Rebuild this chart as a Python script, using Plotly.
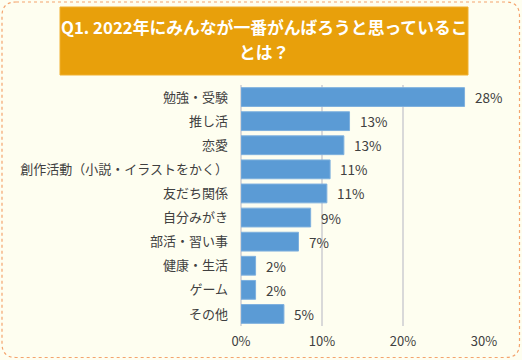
import plotly.graph_objects as go

categories = ["勉強・受験", "推し活", "恋愛", "創作活動（小説・イラストをかく）", "友だち関係",
              "自分みがき", "部活・習い事", "健康・生活", "ゲーム", "その他"]
values = [27.6, 13.4, 12.7, 11.0, 10.6, 8.6, 7.1, 1.8, 1.8, 5.3]
x_ticks = [0, 10, 20, 30]
x_tick_labels = ["0%", "10%", "20%", "30%"]
title_lines = ["Q1. 2022年にみんなが一番がんばろうと思っているこ", "とは？"]

W, H = 522, 360
FONT = "Noto Sans CJK JP"
BG = "#FEFEF0"

def px(x):
    return x / W

def py(y):
    return 1 - y / H

fig = go.Figure()
fig.add_trace(go.Bar(
    x=values, y=categories, orientation="h",
    marker=dict(color="#5B9BD5", line=dict(color="#7EB0DE", width=1)),
    hoverinfo="skip",
))

for c, v in zip(categories, values):
    fig.add_annotation(x=v, y=c, text=f"{v:.0f}%", showarrow=False,
                       xanchor="left", xshift=8,
                       font=dict(family=FONT, size=13.5, color="#404040"))

# rounded dashed border
x0, x1, y0, y1, r = 2, 519.5, 2, 357.5, 14
path = (f"M {px(x0+r)} {py(y0)} L {px(x1-r)} {py(y0)} Q {px(x1)} {py(y0)} {px(x1)} {py(y0+r)} "
        f"L {px(x1)} {py(y1-r)} Q {px(x1)} {py(y1)} {px(x1-r)} {py(y1)} "
        f"L {px(x0+r)} {py(y1)} Q {px(x0)} {py(y1)} {px(x0)} {py(y1-r)} "
        f"L {px(x0)} {py(y0+r)} Q {px(x0)} {py(y0)} {px(x0+r)} {py(y0)} Z")
fig.add_shape(type="path", path=path, xref="paper", yref="paper",
              line=dict(color="#F4A46E", width=1.2, dash="dot"), fillcolor=BG, layer="below")

# title box
fig.add_shape(type="rect", xref="paper", yref="paper",
              x0=px(60), x1=px(468), y0=py(75), y1=py(7),
              fillcolor="#E8A00B", line=dict(color="#F0B030", width=1))
for line, yc in zip(title_lines, [27, 52]):
    fig.add_annotation(xref="paper", yref="paper", x=px(264), y=py(yc), text=f"<b>{line}</b>",
                       showarrow=False, xanchor="center", yanchor="middle",
                       font=dict(family=FONT, size=16.8, color="white"))

fig.update_layout(
    width=W, height=H, autosize=False,
    margin=dict(l=0, r=0, t=0, b=0, pad=0, autoexpand=False),
    paper_bgcolor=BG, plot_bgcolor=BG,
    showlegend=False, bargap=0.22,
    xaxis=dict(domain=[px(241), px(484)], range=[0, 30], tickvals=x_ticks, ticktext=x_tick_labels,
               showgrid=True, gridcolor="#D9D9D9", gridwidth=1.5, zeroline=True,
               zerolinecolor="#D9D9D9", zerolinewidth=2, showline=False, ticks="",
               ticklabelstandoff=6, automargin=False,
               tickfont=dict(family=FONT, size=13, color="#404040"), fixedrange=True),
    yaxis=dict(domain=[py(326), py(85)], autorange="reversed", showgrid=False, ticks="",
               showline=False, zeroline=False, ticklabelstandoff=12, automargin=False,
               tickfont=dict(family=FONT, size=13, color="#404040"), fixedrange=True),
)

fig.write_html("out.html", config={"displayModeBar": False},
               post_script="document.body.style.margin='0';")
